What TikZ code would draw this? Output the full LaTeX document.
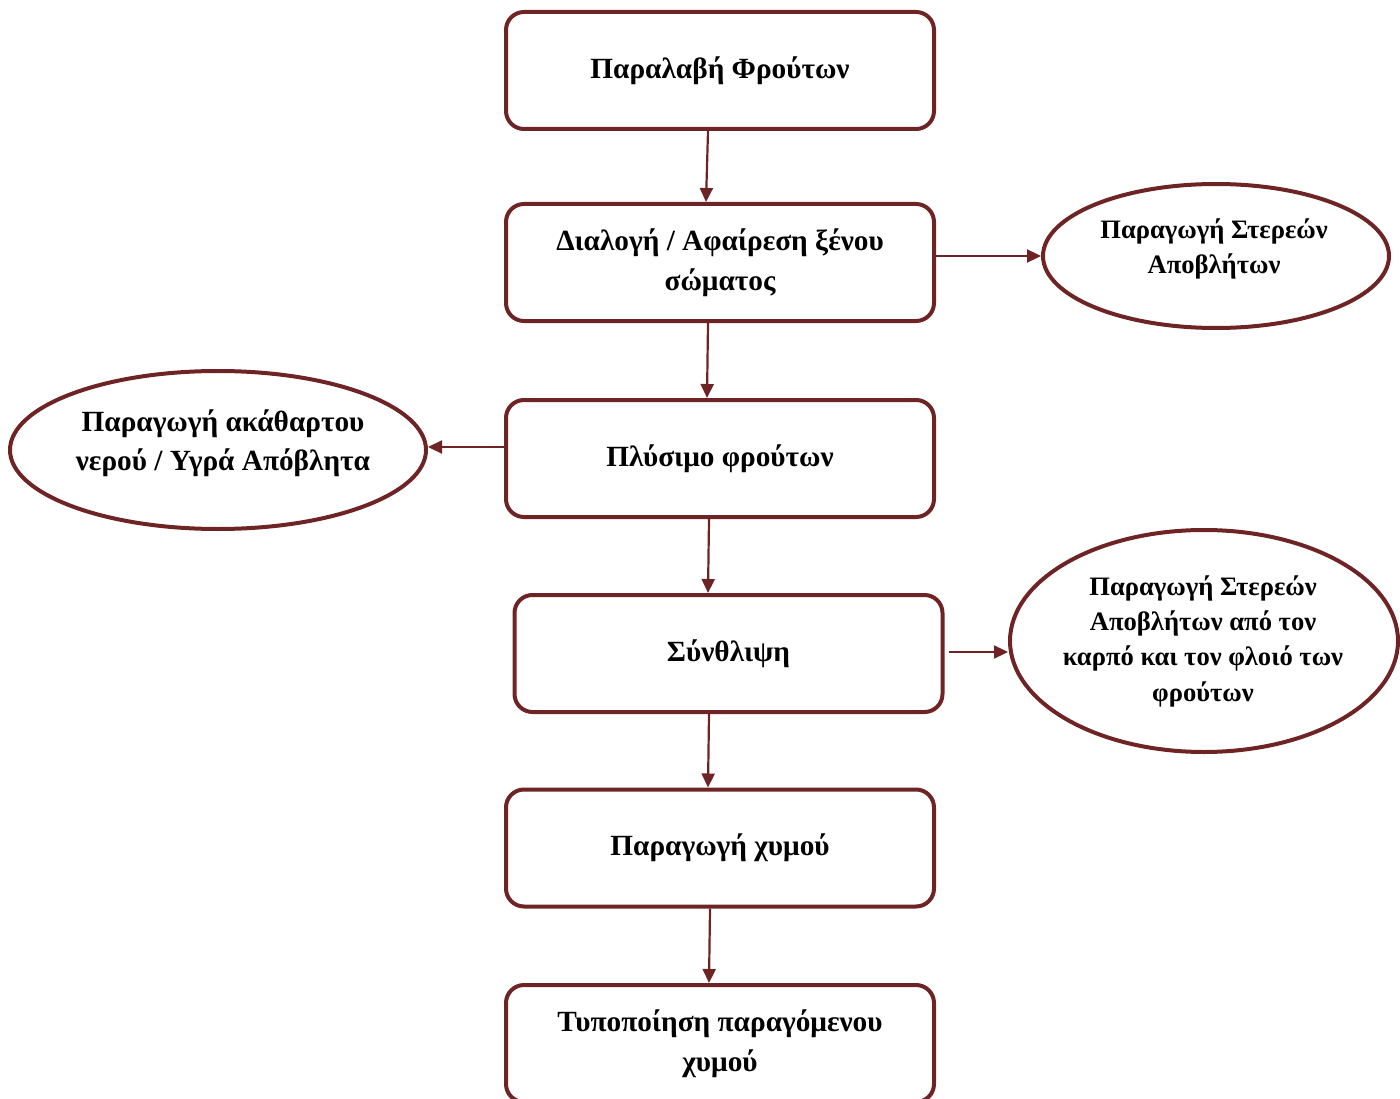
\documentclass[tikz,border=0pt]{standalone}
\usepackage{fontspec}
\setmainfont{Liberation Serif}
\usetikzlibrary{shapes.geometric,arrows.meta}
\definecolor{mar}{RGB}{110,36,36}
\begin{document}
\begin{tikzpicture}[x=1pt,y=-1pt,
  box/.style={draw=mar,line width=4pt,rounded corners=18pt,minimum width=428pt,minimum height=117pt,inner sep=0pt,font=\fontsize{29.3}{40}\selectfont\bfseries,align=center},
  oval/.style={draw=mar,line width=4pt,ellipse,inner sep=0pt},
  lbl/.style={font=\fontsize{29.3}{39}\selectfont\bfseries,align=center,inner sep=0pt},
  lbls/.style={font=\fontsize{26.6}{35.3}\selectfont\bfseries,align=center,inner sep=0pt},
  arr/.style={draw=mar,line width=2.2pt,-{Triangle[length=14pt,width=13pt]}}]
\useasboundingbox (0,0) rectangle (1400,1099);
\begin{scope}
\clip (0,0) rectangle (1400,1099);
\node[box] (b1) at (720,70.5) {Παραλαβή Φρούτων};
\node[box] (b2) at (720,262.5) {Διαλογή / Αφαίρεση ξένου\\σώματος};
\node[box] (b3) at (720,458.5) {Πλύσιμο φρούτων};
\node[box] (b4) at (728.5,653.5) {Σύνθλιψη};
\node[box] (b5) at (720,848) {Παραγωγή χυμού};
\node[box] (b6) at (720,1043.5) {Τυποποίηση παραγόμενου\\χυμού};
\end{scope}
\node[oval,minimum width=346pt,minimum height=144pt] (e1) at (1216,256) {};
\node[lbls] (t1) at (1214,249) {Παραγωγή Στερεών\\Αποβλήτων};
\node[oval,minimum width=416pt,minimum height=158pt] (e2) at (218,450) {};
\node[lbl] (t2) at (223,443) {Παραγωγή ακάθαρτου\\νερού / Υγρά Απόβλητα};
\node[oval,minimum width=388pt,minimum height=222pt] (e3) at (1204,641) {};
\node[lbls] (t3) at (1203,641) {Παραγωγή Στερεών\\Αποβλήτων από τον\\καρπό και τον φλοιό των\\φρούτων};
\draw[arr] ([xshift=-12pt]b1.south) -- ([xshift=-14pt]b2.north);
\draw[arr] ([xshift=-12pt]b2.south) -- ([xshift=-13pt]b3.north);
\draw[arr] ([xshift=-11pt]b3.south) -- ([xshift=-20.5pt]b4.north);
\draw[arr] ([xshift=-19.5pt]b4.south) -- ([xshift=-12pt]b5.north);
\draw[arr] ([xshift=-10pt]b5.south) -- ([xshift=-11pt]b6.north);
\draw[arr] (b2.east |- e1.west) -- (e1.west);
\draw[arr] ([yshift=11.5pt]b3.west) -- ([yshift=11.5pt]b3.west -| e2.east);
\coordinate (a4) at ([xshift=4pt]b4.east);
\draw[arr] ([yshift=1.5pt]a4) -- ([yshift=1.5pt]a4 -| e3.west);
\end{tikzpicture}
\end{document}
